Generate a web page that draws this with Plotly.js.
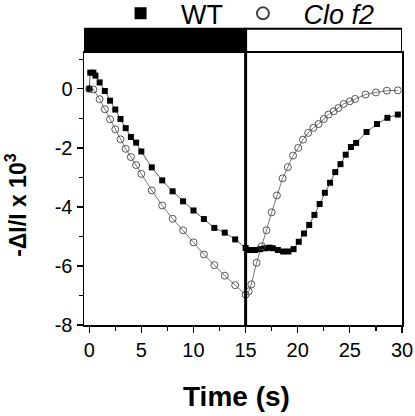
<!DOCTYPE html>
<html><head><meta charset="utf-8">
<script src="https://cdn.plot.ly/plotly-3.0.1.min.js"></script>
<style>html,body{margin:0;padding:0;background:#fff}</style>
</head><body><div id="chart" style="width:415px;height:416px"></div>
<script>
const wtTime = [0, 0.1, 0.4, 0.6, 1, 1.5, 2, 2.5, 3, 3.5, 4, 4.5, 5, 6, 7, 8, 9, 10, 11, 12, 13, 14, 15,
  15.4, 15.9, 16.4, 16.9, 17.3, 17.6, 18.1, 18.6, 19.1, 19.6, 20.1, 20.6, 21.1, 21.6, 22.1, 22.6, 23.1, 23.6,
  24.1, 24.6, 25.1, 25.6, 26.6, 27.6, 28.6, 29.6];
const wtVal = [0, 0.55, 0.55, 0.45, 0.22, -0.07, -0.40, -0.70, -1.02, -1.33, -1.63, -1.82, -2.12, -2.66, -3.10,
  -3.47, -3.81, -4.12, -4.41, -4.71, -4.87, -5.10, -5.39, -5.46, -5.46, -5.43, -5.40, -5.38, -5.40, -5.46, -5.51,
  -5.51, -5.43, -5.18, -4.90, -4.61, -4.27, -3.90, -3.52, -3.18, -2.82, -2.55, -2.23, -1.97, -1.83, -1.46, -1.19,
  -0.98, -0.87];
const cloTime = [0, 0.4, 1, 1.5, 2, 2.5, 3, 3.5, 4, 4.5, 5, 6, 7, 8, 9, 10, 11, 12, 13, 14, 15, 15.3, 15.55,
  16.05, 16.55, 17, 17.5, 18, 18.55, 19.05, 19.55, 20.05, 20.5, 21, 21.5, 22, 22.5, 22.95, 23.45, 23.9, 24.4,
  25, 25.5, 26.5, 27.5, 28.55, 29.6];
const cloVal = [0, -0.02, -0.35, -0.69, -1.03, -1.37, -1.71, -2.03, -2.31, -2.58, -2.88, -3.44, -3.95, -4.40,
  -4.79, -5.20, -5.61, -5.97, -6.33, -6.65, -6.97, -6.86, -6.62, -5.89, -5.33, -4.79, -4.18, -3.61, -3.03, -2.65,
  -2.26, -2.00, -1.72, -1.49, -1.32, -1.19, -1.02, -0.87, -0.76, -0.65, -0.51, -0.42, -0.34, -0.19, -0.12, -0.06,
  -0.05];
const seriesNames = ['WT', '<i>Clo f2</i>'];
const xTickVals = [0, 5, 10, 15, 20, 25, 30];
const yTickVals = [-8, -6, -4, -2, 0];
const xTitle = 'Time (s)';
const yTitle = '-ΔI/I x 10<sup>3</sup>';
const lightOffTime = 15;

const FONT = 'Arial, "Liberation Sans", sans-serif';
const GAP = '\u00a0\u00a0\u2009';
const traces = [
  {x: wtTime, y: wtVal, mode: 'lines', line: {color: '#333', width: 0.8}, showlegend: false, hoverinfo: 'skip'},
  {x: cloTime, y: cloVal, mode: 'lines', line: {color: '#555', width: 0.8}, showlegend: false, hoverinfo: 'skip'},
  {x: wtTime, y: wtVal, mode: 'markers', name: GAP + seriesNames[0] + '\u00a0\u00a0',
   marker: {symbol: 'square', size: 6, color: '#000'}},
  {x: cloTime, y: cloVal, mode: 'markers', name: GAP + seriesNames[1],
   marker: {symbol: 'circle-open', size: 7, color: '#444', line: {width: 0.9}}}
];
const barTop = 1.0855;
const layout = {
  width: 415, height: 416,
  margin: {l: 84, r: 13, t: 52, b: 91, autoexpand: false},
  paper_bgcolor: '#fff', plot_bgcolor: '#fff',
  font: {family: FONT, color: '#000'},
  showlegend: true,
  legend: {orientation: 'h', x: 0.115, xanchor: 'left', y: 1.14, yanchor: 'middle',
    font: {size: 27, family: FONT, color: '#000'}, itemsizing: 'constant', bgcolor: 'rgba(0,0,0,0)',
    traceorder: 'normal'},
  xaxis: {range: [-0.5, 30], tickvals: xTickVals, ticktext: xTickVals.map(String),
    showgrid: false, zeroline: false, showline: true, mirror: true, linecolor: '#000', linewidth: 1.5,
    ticks: 'outside', ticklen: 6, tickwidth: 1.2, tickcolor: '#000',
    minor: {dtick: 2.5, tick0: 0, ticks: 'outside', ticklen: 4, tickwidth: 1.2, tickcolor: '#000', showgrid: false},
    tickfont: {size: 20, family: FONT}},
  yaxis: {range: [-8, 1.25], tickvals: yTickVals, ticktext: yTickVals.map(String),
    showgrid: false, zeroline: false, showline: true, mirror: true, linecolor: '#000', linewidth: 1.5,
    ticks: 'outside', ticklen: 6, tickwidth: 1.2, tickcolor: '#000',
    minor: {dtick: 1, tick0: 0, ticks: 'outside', ticklen: 4, tickwidth: 1.2, tickcolor: '#000', showgrid: false},
    tickfont: {size: 20, family: FONT}},
  annotations: [
    {xref: 'paper', yref: 'paper', x: 0.481, y: -0.262, xanchor: 'center', yanchor: 'middle',
     text: '<b>' + xTitle + '</b>', showarrow: false, font: {size: 28, family: FONT, color: '#000'}},
    {xref: 'paper', yref: 'paper', x: -0.214, y: 0.44, xanchor: 'center', yanchor: 'middle', textangle: -90,
     text: '<b>' + yTitle + '</b>', showarrow: false, font: {size: 23, family: FONT, color: '#000'}}
  ],
  shapes: [
    {type: 'rect', xref: 'x', yref: 'paper', x0: -0.5, x1: lightOffTime, y0: 1, y1: barTop,
     fillcolor: '#000', line: {color: '#000', width: 2}, layer: 'above'},
    {type: 'rect', xref: 'x', yref: 'paper', x0: lightOffTime, x1: 30, y0: 1, y1: barTop,
     fillcolor: '#fff', line: {color: '#000', width: 2}, layer: 'above'},
    {type: 'line', xref: 'x', yref: 'paper', x0: lightOffTime, x1: lightOffTime, y0: 0, y1: barTop,
     line: {color: '#000', width: 3}, layer: 'above'}
  ]
};
Plotly.newPlot('chart', traces, layout, {staticPlot: true, displayModeBar: false});
</script></body></html>
